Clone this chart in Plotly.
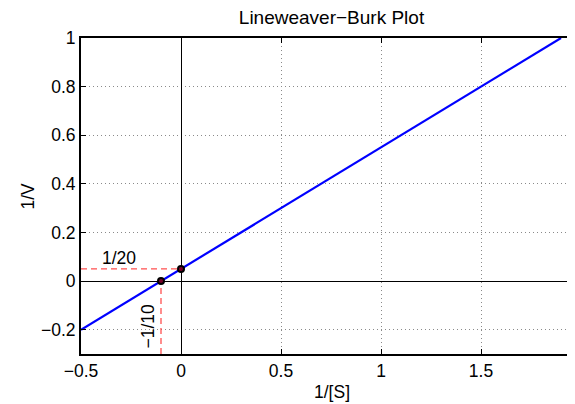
import plotly.graph_objects as go

# Data
line_x = [-0.5, 1.9]
line_y = [-0.2, 1.0]
point_x = [-0.1, 0.0]
point_y = [0.0, 0.05]
hguide_x = [-0.5, 0.0]
hguide_y = [0.05, 0.05]
vguide_x = [-0.1, -0.1]
vguide_y = [-0.3, 0.0]
x_ticks = [-0.5, 0, 0.5, 1, 1.5]
x_ticktext = ["\u22120.5", "0", "0.5", "1", "1.5"]
y_ticks = [-0.2, 0, 0.2, 0.4, 0.6, 0.8, 1]
y_ticktext = ["\u22120.2", "0", "0.2", "0.4", "0.6", "0.8", "1"]

FONT = "Liberation Sans, Arial, Helvetica, sans-serif"
red = "rgba(255,70,70,0.95)"
FS = 17.5

fig = go.Figure()
fig.add_trace(go.Scatter(x=hguide_x, y=hguide_y, mode="lines",
                         line=dict(color=red, width=1.3, dash="6px,4px"), hoverinfo="skip"))
fig.add_trace(go.Scatter(x=vguide_x, y=vguide_y, mode="lines",
                         line=dict(color=red, width=1.3, dash="6px,4px"), hoverinfo="skip"))
fig.add_trace(go.Scatter(x=line_x, y=line_y, mode="lines",
                         line=dict(color="#0000ff", width=2.2)))
fig.add_trace(go.Scatter(x=point_x, y=point_y, mode="markers",
                         marker=dict(color="rgba(120,0,40,1)", size=6,
                                     line=dict(color="black", width=2))))

fig.add_annotation(x=-0.31, y=0.093, text="1/20", showarrow=False,
                   font=dict(family=FONT, size=FS, color="black"))
fig.add_annotation(x=-0.165, y=-0.187, text="\u22121/10", showarrow=False, textangle=-90,
                   font=dict(family=FONT, size=FS, color="black"))

# axis titles as annotations for exact placement
fig.add_annotation(xref="paper", yref="paper", x=(331.5 - 81) / 494, y=-(384 - 346) / 316,
                   text="1/[S]", showarrow=False, xanchor="center", yanchor="middle",
                   font=dict(family=FONT, size=FS, color="black"))
fig.add_annotation(xref="paper", yref="paper", x=(19.5 - 73) / 494, y=0.5,
                   text="1/V", showarrow=False, textangle=-90, xanchor="center", yanchor="middle",
                   font=dict(family=FONT, size=FS, color="black"))

fig.update_layout(
    width=567, height=396,
    margin=dict(l=73, r=0, t=30, b=50),
    paper_bgcolor="white", plot_bgcolor="white",
    showlegend=False,
    font=dict(family=FONT, size=FS, color="black"),
    title=dict(text="Lineweaver\u2212Burk Plot", x=(323.5 - 73) / 494, xref="paper",
               xanchor="center", y=1 - 9.5 / 396, yref="container", yanchor="middle",
               font=dict(family=FONT, size=19, color="black")),
    xaxis=dict(range=[-0.5, 1.97], tickvals=x_ticks, ticktext=x_ticktext,
               showline=True, linecolor="black", linewidth=2, mirror="ticks",
               ticks="inside", ticklen=5, tickcolor="black", tickwidth=1.3,
               showgrid=True, gridcolor="#8a8a8a", griddash="1px,3px", gridwidth=1,
               zeroline=True, zerolinecolor="black", zerolinewidth=1.2,
               tickfont=dict(family=FONT, size=FS, color="black")),
    yaxis=dict(range=[-0.3, 1], tickvals=y_ticks, ticktext=y_ticktext,
               showline=True, linecolor="black", linewidth=2, mirror=False,
               ticks="inside", ticklen=5, tickcolor="black", tickwidth=1.3,
               showgrid=True, gridcolor="#8a8a8a", griddash="1px,3px", gridwidth=1,
               zeroline=True, zerolinecolor="black", zerolinewidth=1.2,
               tickfont=dict(family=FONT, size=FS, color="black")),
)

fig.write_html("out.html")
